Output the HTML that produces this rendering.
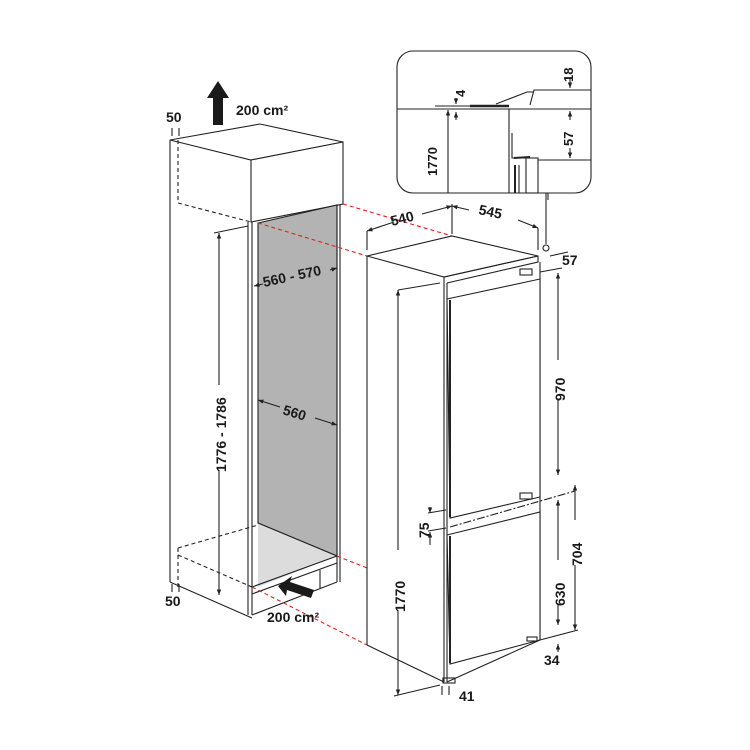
<!DOCTYPE html>
<html><head><meta charset="utf-8"><style>
html,body{margin:0;padding:0;background:#fff;}
svg{display:block;}
text{font-family:"Liberation Sans",sans-serif;font-weight:bold;fill:#1a1a1a;}
</style></head><body>
<svg width="750" height="750" viewBox="0 0 750 750" xmlns="http://www.w3.org/2000/svg">
<defs>
<marker id="a" viewBox="0 0 10 10" refX="10" refY="5" markerWidth="5" markerHeight="5" orient="auto-start-reverse"><path d="M0,1 L10,5 L0,9 z" fill="#222"/></marker>
</defs>
<g fill="none" stroke="#222" stroke-width="1.1">
<!-- cabinet -->
<line x1="170" y1="140" x2="170" y2="582"/>
<polygon points="170,140 260,124 343,142 251,160" fill="#fff"/>
<polygon points="251,160 343,142 343,204 251,222" fill="#fff"/>
<line x1="178" y1="140" x2="178" y2="203" stroke-dasharray="4,3"/>
<line x1="178" y1="203" x2="251" y2="222" stroke-dasharray="4,3"/>
<line x1="248" y1="222" x2="248" y2="615"/>
<line x1="252" y1="222" x2="252" y2="615"/>
<polygon points="258,223 337,205 337,556 258,523" fill="#b3b3b3"/>
<polygon points="258,523 337,556 258,587" fill="#dcdcdc" stroke="none"/>
<line x1="258" y1="523" x2="337" y2="556"/>
<line x1="337" y1="205" x2="337" y2="582"/>
<line x1="340" y1="205" x2="340" y2="582"/>
<line x1="252" y1="587" x2="337" y2="556"/>
<line x1="252" y1="594" x2="337" y2="563"/>
<line x1="252" y1="615" x2="337" y2="582"/>
<line x1="320" y1="570" x2="320" y2="588"/>
<line x1="178" y1="548" x2="258" y2="525" stroke-dasharray="4,3"/>
<line x1="178" y1="555" x2="252" y2="587" stroke-dasharray="4,3"/>
<line x1="178" y1="548" x2="178" y2="590" stroke-dasharray="4,3"/>
<line x1="170" y1="582" x2="252" y2="618"/>
<!-- cabinet dims -->
<line x1="219" y1="233" x2="219" y2="385" marker-start="url(#a)"/>
<line x1="219" y1="470" x2="219" y2="595" marker-end="url(#a)"/>
<line x1="214" y1="233" x2="248" y2="226"/>
<line x1="254" y1="286" x2="263" y2="284" marker-start="url(#a)"/>
<line x1="330" y1="270" x2="337" y2="268" marker-end="url(#a)"/>
<line x1="258" y1="400" x2="280" y2="407" marker-start="url(#a)"/>
<line x1="315" y1="418" x2="337" y2="425" marker-end="url(#a)"/>
<line x1="172" y1="128" x2="172" y2="136"/><line x1="179" y1="128" x2="179" y2="136"/>
<line x1="172" y1="584" x2="172" y2="592"/><line x1="179" y1="584" x2="179" y2="592"/>
<!-- red dashed -->
<g stroke="#e02020" stroke-dasharray="4,3">
<line x1="343" y1="204" x2="452" y2="236"/>
<line x1="258" y1="223" x2="367" y2="256"/>
<line x1="337" y1="556" x2="367" y2="568"/>
<line x1="252" y1="587" x2="367" y2="645"/>
</g>
<!-- fridge -->
<polygon points="367,256 452,236 538,256 444,277" fill="#fff"/>
<line x1="367" y1="256" x2="367" y2="645"/>
<line x1="444" y1="277" x2="444" y2="682"/>
<line x1="367" y1="645" x2="444" y2="682"/>
<polyline points="444,277 538,256 538,262 447,283"/>
<line x1="540" y1="262" x2="540" y2="640"/>
<line x1="447" y1="283" x2="447" y2="682"/>
<polygon points="447,299 540,279 540,497 450,518" fill="#fff"/>
<line x1="450" y1="300" x2="450" y2="517" stroke-width="2"/>
<polygon points="447,535 540,512 540,640 450,664" fill="#fff"/>
<line x1="450" y1="536" x2="450" y2="663" stroke-width="2"/>
<line x1="447" y1="682" x2="540" y2="640"/>
<rect x="520" y="269" width="12" height="6"/>
<rect x="520" y="493" width="12" height="6"/>
<line x1="450" y1="527" x2="575" y2="491" stroke-dasharray="8,2,2,2"/>
<rect x="443" y="678" width="12" height="5"/>
<rect x="527" y="637" width="10" height="4"/>
<!-- fridge dims -->
<line x1="367" y1="231" x2="394" y2="222" marker-start="url(#a)"/>
<line x1="367" y1="231" x2="367" y2="250"/>
<line x1="422" y1="214" x2="452" y2="206" marker-end="url(#a)"/>
<line x1="452" y1="206" x2="469" y2="210" marker-start="url(#a)"/>
<line x1="452" y1="204" x2="452" y2="234"/>
<line x1="518" y1="220" x2="538" y2="228" marker-end="url(#a)"/>
<line x1="538" y1="228" x2="538" y2="250"/>
<line x1="546" y1="193" x2="546" y2="244"/>
<circle cx="546" cy="248" r="3"/>
<line x1="550" y1="256" x2="568" y2="252"/>
<line x1="540" y1="272" x2="562" y2="268"/>
<line x1="558" y1="273" x2="558" y2="360" marker-start="url(#a)"/>
<line x1="558" y1="400" x2="558" y2="475" marker-end="url(#a)"/>
<line x1="558" y1="500" x2="558" y2="560" marker-start="url(#a)"/>
<line x1="558" y1="605" x2="558" y2="625" marker-end="url(#a)"/>
<line x1="575" y1="485" x2="575" y2="520" marker-start="url(#a)"/>
<line x1="575" y1="565" x2="575" y2="630" marker-end="url(#a)"/>
<line x1="540" y1="640" x2="578" y2="630"/>
<line x1="558" y1="644" x2="558" y2="652" marker-start="url(#a)"/>
<line x1="398" y1="290" x2="398" y2="550" marker-start="url(#a)"/>
<line x1="398" y1="610" x2="398" y2="695" marker-end="url(#a)"/>
<line x1="398" y1="290" x2="440" y2="283"/>
<line x1="394" y1="696" x2="440" y2="685"/>
<line x1="430" y1="507" x2="430" y2="513" marker-end="url(#a)"/>
<line x1="430" y1="532" x2="430" y2="545" marker-start="url(#a)"/>
<line x1="428" y1="513" x2="446" y2="510"/>
<line x1="428" y1="531" x2="446" y2="528"/>
<line x1="442" y1="686" x2="442" y2="695"/><line x1="449" y1="686" x2="449" y2="695"/>
<!-- inset -->
<rect x="397" y="51" width="194" height="142" rx="16" fill="#fff"/>
<line x1="397" y1="109" x2="591" y2="109"/>
<line x1="435" y1="106" x2="470" y2="106"/>
<line x1="470" y1="106" x2="509" y2="106" stroke-width="2.5"/>
<polyline points="496,104 527,92 533,92"/>
<polyline points="530,105 534,90 591,90"/>
<line x1="509" y1="109" x2="509" y2="193"/>
<polyline points="512,133 512,158 530,158"/>
<line x1="514" y1="158" x2="530" y2="157" stroke-width="2"/>
<rect x="526" y="158" width="12" height="35"/>
<line x1="538" y1="160" x2="591" y2="160"/>
<line x1="515" y1="165" x2="515" y2="193" stroke-width="2"/>
<line x1="519" y1="165" x2="519" y2="193"/>
<line x1="448" y1="110" x2="448" y2="193" marker-start="url(#a)"/>
<line x1="456" y1="98" x2="456" y2="104" marker-end="url(#a)"/>
<line x1="456" y1="112" x2="456" y2="120" marker-start="url(#a)"/>
<line x1="570" y1="78" x2="570" y2="88" marker-end="url(#a)"/>
<line x1="570" y1="111" x2="570" y2="120" marker-start="url(#a)"/>
<line x1="570" y1="148" x2="570" y2="158" marker-end="url(#a)"/>
<line x1="548" y1="193" x2="548" y2="200"/>
</g>
<!-- arrows -->
<polygon points="213,125 223,125 223,98 229,98 218,81 207,98 213,98" fill="#1a1a1a"/>
<polygon points="278,586 292,576 290,582 314,590 311,598 287,590 286,596" fill="#1a1a1a"/>
<!-- labels -->
<text x="166" y="122" font-size="14">50</text>
<text x="236" y="115" font-size="14">200 cm²</text>
<text x="165" y="606" font-size="14">50</text>
<text x="267" y="622" font-size="14">200 cm²</text>
<text x="0" y="0" font-size="14" transform="translate(226,472) rotate(-90)">1776 - 1786</text>
<text x="0" y="0" font-size="14" transform="translate(264,287) rotate(-12)">560 - 570</text>
<text x="0" y="0" font-size="14" transform="translate(282,414) rotate(17)">560</text>
<text x="0" y="0" font-size="14" transform="translate(392,226) rotate(-14)">540</text>
<text x="0" y="0" font-size="14" transform="translate(478,214) rotate(12)">545</text>
<text x="562" y="265" font-size="14">57</text>
<text x="0" y="0" font-size="14" transform="translate(565,401) rotate(-90)">970</text>
<text x="0" y="0" font-size="14" transform="translate(582,566) rotate(-90)">704</text>
<text x="0" y="0" font-size="14" transform="translate(565,606) rotate(-90)">630</text>
<text x="0" y="0" font-size="14" transform="translate(405,612) rotate(-90)">1770</text>
<text x="0" y="0" font-size="14" transform="translate(429,538) rotate(-90)">75</text>
<text x="544" y="665" font-size="14">34</text>
<text x="459" y="701" font-size="14">41</text>
<text x="0" y="0" font-size="13" transform="translate(437,176) rotate(-90)">1770</text>
<text x="0" y="0" font-size="13" transform="translate(465,97) rotate(-90)">4</text>
<text x="0" y="0" font-size="13" transform="translate(573,82) rotate(-90)">18</text>
<text x="0" y="0" font-size="13" transform="translate(573,146) rotate(-90)">57</text>
</svg>
</body></html>
